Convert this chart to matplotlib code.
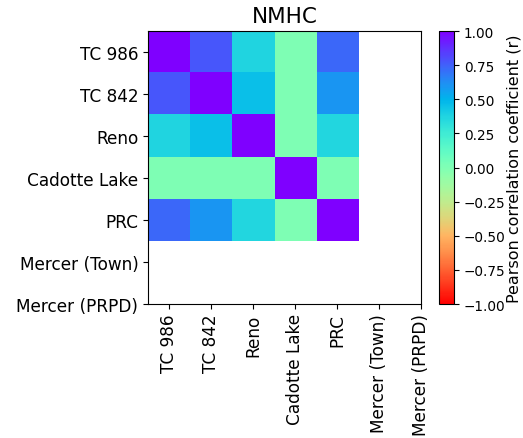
import numpy as np
import matplotlib
matplotlib.use('Agg')
import matplotlib.pyplot as plt

# stations (last two have no NMHC data)
stations = ['TC 986', 'TC 842', 'Reno', 'Cadotte Lake', 'PRC',
            'Mercer (Town)', 'Mercer (PRPD)']

# Pearson r between the five stations with data
tc986 = [1.00, 0.78, 0.37, 0.00, 0.73]
tc842 = [0.78, 1.00, 0.46, 0.00, 0.60]
reno = [0.37, 0.46, 1.00, 0.00, 0.36]
cadotte = [0.00, 0.00, 0.00, 1.00, 0.00]
prc = [0.73, 0.60, 0.36, 0.00, 1.00]

corr = np.array([tc986, tc842, reno, cadotte, prc])

fig = plt.figure(figsize=(5.23, 4.39), dpi=100)
ax = fig.add_axes([0.283, 0.305, 0.522, 0.624])
cax = fig.add_axes([0.839, 0.305, 0.029, 0.622])

im = ax.imshow(corr, cmap='rainbow_r', vmin=-1, vmax=1)

# ticks for all 7 stations -> axis grows to include them
ax.set_xticks(range(len(stations)))
ax.set_yticks(range(len(stations)))
ax.set_xticklabels(stations, rotation=90, fontsize=12.2)
ax.set_yticklabels(stations, fontsize=12.2)
ax.set_title('NMHC', fontsize=15.5)

cb = fig.colorbar(im, cax=cax)
cb.set_label('Pearson correlation coefficient (r)', fontsize=11.5, labelpad=1)
cb.ax.tick_params(labelsize=9.8)

plt.savefig('out.png', dpi=100)
